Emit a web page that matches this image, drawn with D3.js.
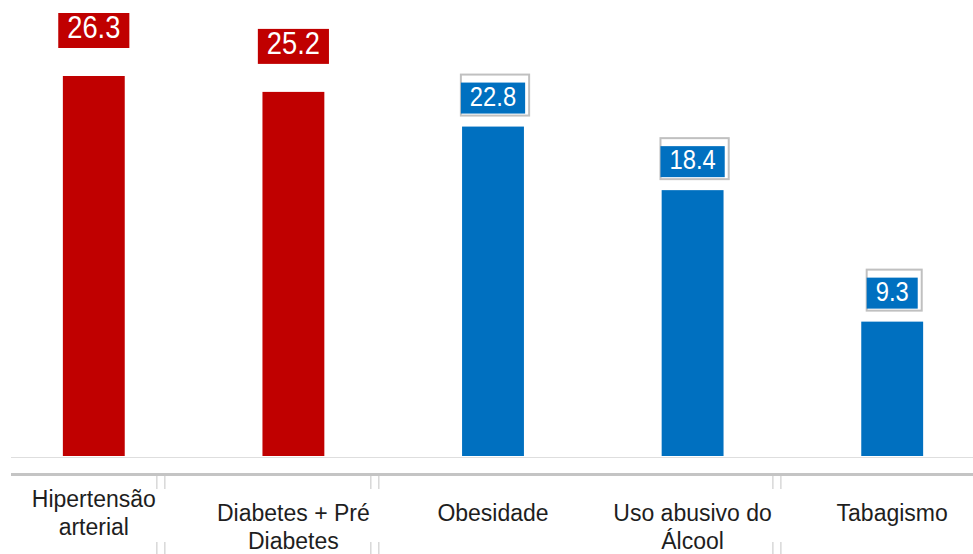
<!DOCTYPE html>
<html>
<head>
<meta charset="utf-8">
<script src="https://cdn.jsdelivr.net/npm/d3@7"></script>
<style>
  html, body { margin: 0; padding: 0; background: #fff; }
  svg { display: block; font-family: "Liberation Sans", Arial, Helvetica, sans-serif; }
</style>
</head>
<body>
<svg id="chart" width="973" height="554"></svg>
<script>
// ---- data ----
const categories = ["Hipertensão arterial", "Diabetes + Pré Diabetes", "Obesidade", "Uso abusivo do Álcool", "Tabagismo"];
const labelLines = [["Hipertensão", "arterial"], ["Diabetes + Pré", "Diabetes"], ["Obesidade"], ["Uso abusivo do", "Álcool"], ["Tabagismo"]];
const values = [26.3, 25.2, 22.8, 18.4, 9.3];
const groups = ["red", "red", "blue", "blue", "blue"];

// ---- setup ----
const W = 973, H = 554;
const svg = d3.select("#chart");
const colors = { red: "#C00000", blue: "#0070C0" };
const fmt = d3.format(".1f");

const x = d3.scaleBand()
  .domain(categories)
  .range([-6, 992])
  .paddingInner(0.69)
  .paddingOuter(0.345);

const y = d3.scaleLinear()
  .domain([0, 26.3])
  .range([456, 76]);

const data = categories.map((c, i) => ({ cat: c, v: values[i], g: groups[i], lines: labelLines[i] }));

// ---- axis lines ----
svg.append("line").attr("x1", 11).attr("x2", W).attr("y1", y(0) + 1.5).attr("y2", y(0) + 1.5)
  .attr("stroke", "#dedede").attr("stroke-width", 1.2);
svg.append("line").attr("x1", 11).attr("x2", W).attr("y1", 474.5).attr("y2", 474.5)
  .attr("stroke", "#c4c4c4").attr("stroke-width", 3);

// ---- bars ----
svg.append("g").selectAll("rect").data(data).join("rect")
  .attr("x", d => x(d.cat))
  .attr("y", d => y(d.v))
  .attr("width", x.bandwidth())
  .attr("height", d => y(0) - y(d.v))
  .attr("fill", d => colors[d.g]);

// ---- value labels ----
const lab = svg.append("g");
data.forEach(d => {
  const cx = x(d.cat) + x.bandwidth() / 2;
  const top = y(d.v);
  const g = lab.append("g");
  const isRed = d.g === "red";
  const fs = isRed ? 31 : 27;
  const t = g.append("text")
    .attr("x", cx)
    .attr("text-anchor", "middle")
    .attr("font-size", fs)
    .attr("fill", "#fff")
    .text(fmt(d.v));
  const tw = t.node().getComputedTextLength() * 0.88;
  t.attr("textLength", tw).attr("lengthAdjust", "spacingAndGlyphs");
  const bw = tw + 18;
  if (isRed) {
    g.insert("rect", "text")
      .attr("x", cx - bw / 2).attr("y", top - 63)
      .attr("width", bw).attr("height", 35)
      .attr("fill", colors.red);
    t.attr("y", top - 38);
  } else {
    g.insert("rect", "text")
      .attr("x", cx - bw / 2).attr("y", top - 52)
      .attr("width", bw + 4).attr("height", 41)
      .attr("fill", "#fff").attr("stroke", "#c0c0c0").attr("stroke-width", 2);
    g.insert("rect", "text")
      .attr("x", cx - bw / 2).attr("y", top - 44)
      .attr("width", bw).attr("height", 31)
      .attr("fill", colors.blue);
    t.attr("y", top - 21);
  }
});

// ---- category labels ----
const cl = svg.append("g");
data.forEach((d, i) => {
  const cx = x(d.cat) + x.bandwidth() / 2;
  const base = (i === 0 ? 507 : 521);
  const t = cl.append("text")
    .attr("x", cx)
    .attr("y", base)
    .attr("text-anchor", "middle")
    .attr("font-size", 23)
    .attr("fill", "#1e1e1e");
  d.lines.forEach((ln, j) => {
    t.append("tspan").attr("x", cx).attr("dy", j === 0 ? 0 : 28).text(ln);
  });
  if (d.lines.length > 1) {
    const first = t.select("tspan").node();
    const w = first.getComputedTextLength();
    const rx = cx + w / 2;
    [1, 9].forEach(off => {
      [[476, 489], [542, 554]].forEach(([a, b]) => {
        cl.append("line")
          .attr("x1", rx + off).attr("x2", rx + off)
          .attr("y1", a).attr("y2", b)
          .attr("stroke", "#d8d8d8").attr("stroke-width", 1.5);
      });
    });
  }
});
</script>
</body>
</html>
